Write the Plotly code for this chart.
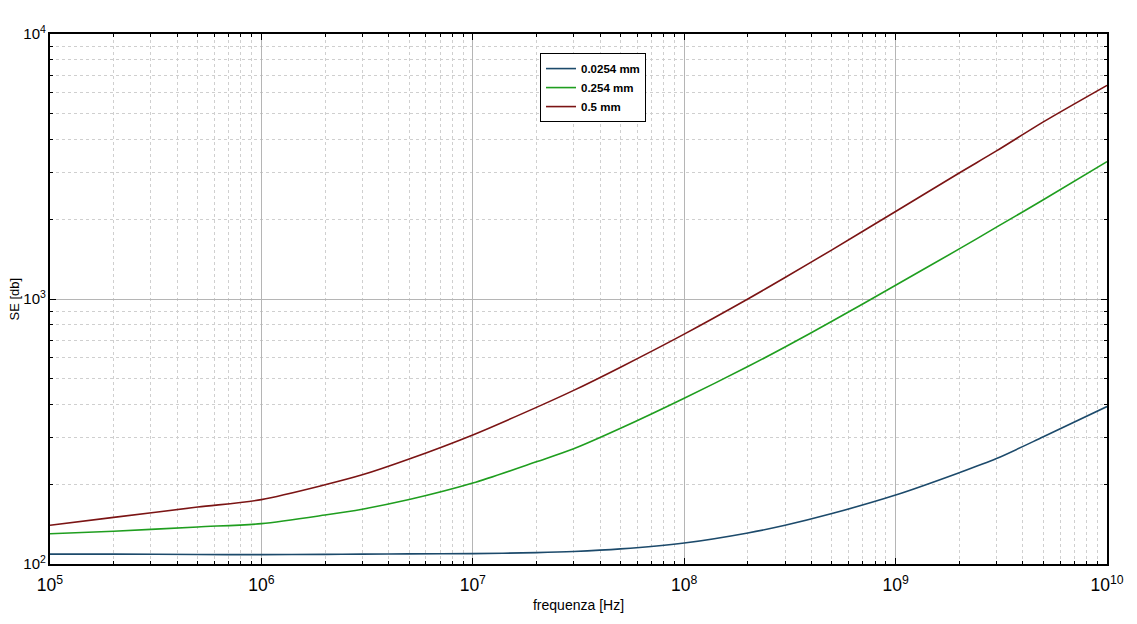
import plotly.graph_objects as go

# frequency points (Hz)
freq = [1e5, 2e5, 5e5, 1e6, 2e6, 3e6, 5e6, 1e7, 2e7, 3e7, 5e7,
        1e8, 2e8, 3e8, 5e8, 1e9, 2e9, 3e9, 5e9, 1e10]

# shielding effectiveness
se_0254 = [109, 109, 108.6, 108.5, 108.7, 109, 109.2, 109.4, 110.4, 111.5, 114,
           120, 131, 140, 155, 182, 221, 250, 302, 393]
se_254 = [130, 133, 138, 142, 153, 161, 175, 202, 243, 272, 325,
          422, 556, 659, 824, 1127, 1545, 1867, 2368, 3300]
se_05 = [140, 150, 164, 175, 199, 217, 249, 307, 390, 452, 553,
         737, 1000, 1205, 1533, 2139, 2990, 3620, 4660, 6400]

names = ["0.0254 mm", "0.254 mm", "0.5 mm"]
colors = ["#1c4a6b", "#1f9e1f", "#7b1414"]

fig = go.Figure()
for name, ys, col in zip(names, [se_0254, se_254, se_05], colors):
    fig.add_trace(go.Scatter(x=freq, y=ys, mode="lines", name="<b>%s</b>" % name,
                             line=dict(color=col, width=1.6, shape="spline",
                                       smoothing=0.8)))

axis_style = dict(
    type="log",
    dtick=1,
    exponentformat="power",
    automargin=False,
    showline=True, linecolor="black", linewidth=1.5,
    mirror="allticks",
    ticks="inside", ticklen=6, tickcolor="black",
    showgrid=True, gridcolor="#b5b5b5", gridwidth=1,
    zeroline=False,
    minor=dict(ticks="inside", ticklen=3, tickcolor="black",
               showgrid=True, gridcolor="#cfcfcf", griddash="dot"),
)

fig.update_xaxes(range=[5, 10], ticklabelstandoff=5,
                 tickfont=dict(family="Liberation Sans", size=14, color="black"),
                 title=dict(text="frequenza [Hz]", standoff=6,
                            font=dict(family="Liberation Sans", size=14, color="black")),
                 **axis_style)
fig.update_yaxes(range=[2, 4],
                 tickfont=dict(family="Liberation Sans", size=12, color="black"),
                 **axis_style)

# y title as an annotation so it clears the tick labels
fig.add_annotation(text="SE [db]", xref="paper", yref="paper", x=-0.0345, y=0.5,
                   xanchor="center", yanchor="middle", textangle=-90, showarrow=False,
                   font=dict(family="Liberation Sans", size=13, color="black"))

# the page body adds an 8px margin, so the figure is a bit smaller than the window
fig.update_layout(
    width=1129, height=616,
    margin=dict(l=42, r=30, t=26, b=60),
    plot_bgcolor="white", paper_bgcolor="white",
    legend=dict(x=0.4636, y=0.964, xanchor="left", yanchor="top",
                bgcolor="white", bordercolor="black", borderwidth=1,
                font=dict(family="Liberation Sans", size=11.5, color="black"),
                tracegroupgap=0),
    showlegend=True,
)

fig.write_html("out.html")
